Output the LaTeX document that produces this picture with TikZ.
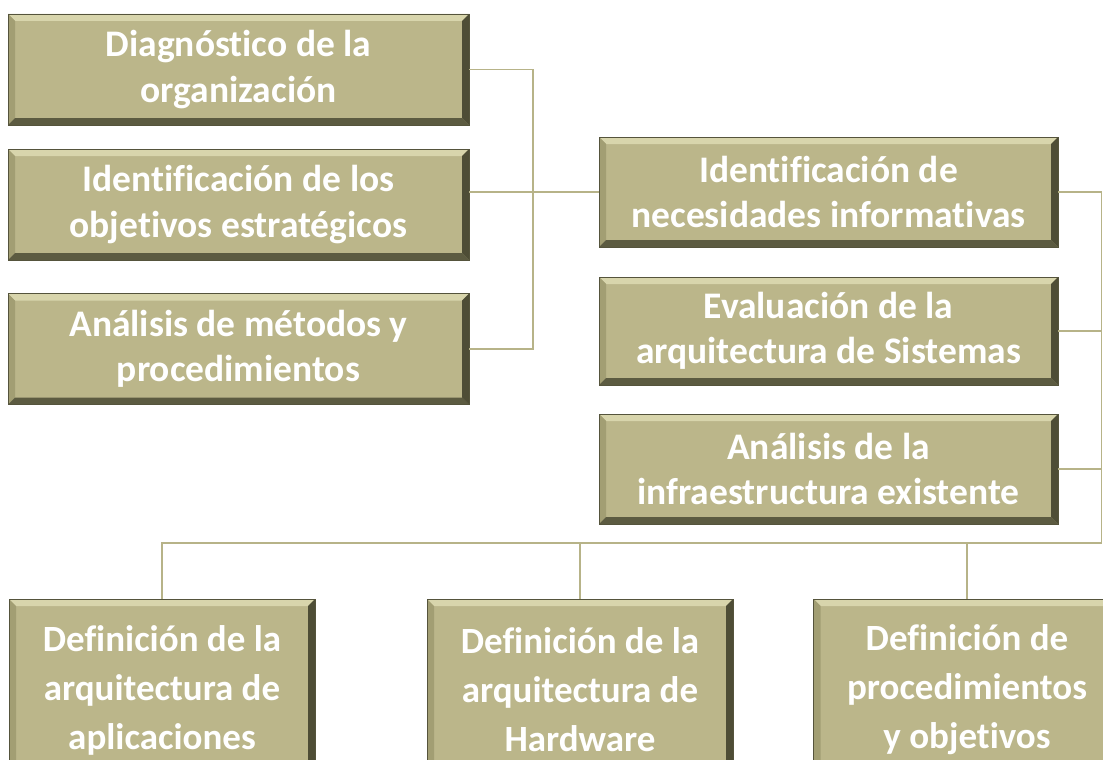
\documentclass[tikz,border=0pt]{standalone}
\usepackage{fontspec}
\setmainfont{Carlito}[Ligatures={NoCommon}]
\usetikzlibrary{calc}
\definecolor{boxfill}{HTML}{BBB68A}
\definecolor{bevlight}{HTML}{D8D5AC}
\definecolor{bevleft}{HTML}{A29E73}
\definecolor{bevbottom}{HTML}{5C5B41}
\definecolor{bevright}{HTML}{4E4D36}
\definecolor{boxedge}{HTML}{55543C}
\definecolor{connline}{HTML}{B7B388}
\tikzset{
  bevelbox/.style={rectangle, fill=boxfill, draw=boxedge, line width=0.8pt,
    inner sep=0pt, align=center, text=white,
    path picture={
      \path (path picture bounding box.south west) coordinate (bsw)
            (path picture bounding box.north east) coordinate (bne);
      \fill[bevlight] (bsw|-bne) -- (bne) -- ($(bne)+(-7pt,-7pt)$) -- ($(bsw|-bne)+(7pt,-7pt)$) -- cycle;
      \fill[bevleft] (bsw) -- (bsw|-bne) -- ($(bsw|-bne)+(7pt,-7pt)$) -- ($(bsw)+(7pt,7pt)$) -- cycle;
      \fill[bevbottom] (bsw) -- (bsw-|bne) -- ($(bsw-|bne)+(-7pt,7pt)$) -- ($(bsw)+(7pt,7pt)$) -- cycle;
      \fill[bevright] (bsw-|bne) -- (bne) -- ($(bne)+(-7pt,-7pt)$) -- ($(bsw-|bne)+(-7pt,7pt)$) -- cycle;
    }},
  upbox/.style={bevelbox, minimum width=#1, minimum height=111pt,
    font=\bfseries\fontsize{37.5}{45.5}\selectfont},
  lowbox/.style={bevelbox, minimum width=306pt, minimum height=182pt,
    font=\bfseries\fontsize{37}{49}\selectfont},
  conn/.style={draw=connline, line width=1.3pt}
}
\begin{document}
\begin{tikzpicture}[x=1pt,y=-1pt]
\useasboundingbox (0,0) rectangle (1103,760);
\clip (0,0) rectangle (1103,760);
\fill[white] (0,0) rectangle (1103,760);
% left column
\node[upbox=461pt] (diag) at (238.5,69.5) {Diagnóstico de la\\organización};
\node[upbox=461pt] (ident) at (238.5,204.5) {Identificación de los\\objetivos estratégicos};
\node[upbox=461pt] (anal) at (238.5,349) {Análisis de métodos y\\procedimientos};
% right column
\node[upbox=459pt, minimum height=110pt] (nec) at (828.5,192) {Identificación de\\necesidades informativas};
\node[upbox=459pt, minimum height=108pt] (eval) at (828.5,331) {Evaluación de la\\arquitectura de Sistemas};
\node[upbox=459pt, minimum height=110pt] (infra) at (828.5,469) {Análisis de la\\infraestructura existente};
% bottom row
\node[lowbox] (defapp) at (162,690) {Definición de la\\arquitectura de\\aplicaciones};
\node[lowbox] (defhw) at (580,690) {Definición de la\\arquitectura de\\Hardware};
\node[lowbox, minimum width=307pt] (defproc) at (967,690) {Definición de\\procedimientos\\y objetivos};
% helper coordinates
\coordinate (spine) at (533,0);
\coordinate (rspine) at (1101.5,0);
\coordinate (bus) at (0,543);
% connectors
\draw[conn] (diag.east) -- (diag.east -| spine) |- (anal.east);
\draw[conn] (ident.east |- nec.west) -- (nec.west);
\draw[conn] (nec.east) -- (nec.east -| rspine) -- (rspine |- bus);
\draw[conn] (eval.east) -- (eval.east -| rspine);
\draw[conn] (infra.east) -- (infra.east -| rspine);
\draw[conn] (defapp.north) -- (defapp.north |- bus) -- (bus -| rspine);
\draw[conn] (defhw.north) -- (defhw.north |- bus);
\draw[conn] (defproc.north) -- (defproc.north |- bus);
\end{tikzpicture}
\end{document}
